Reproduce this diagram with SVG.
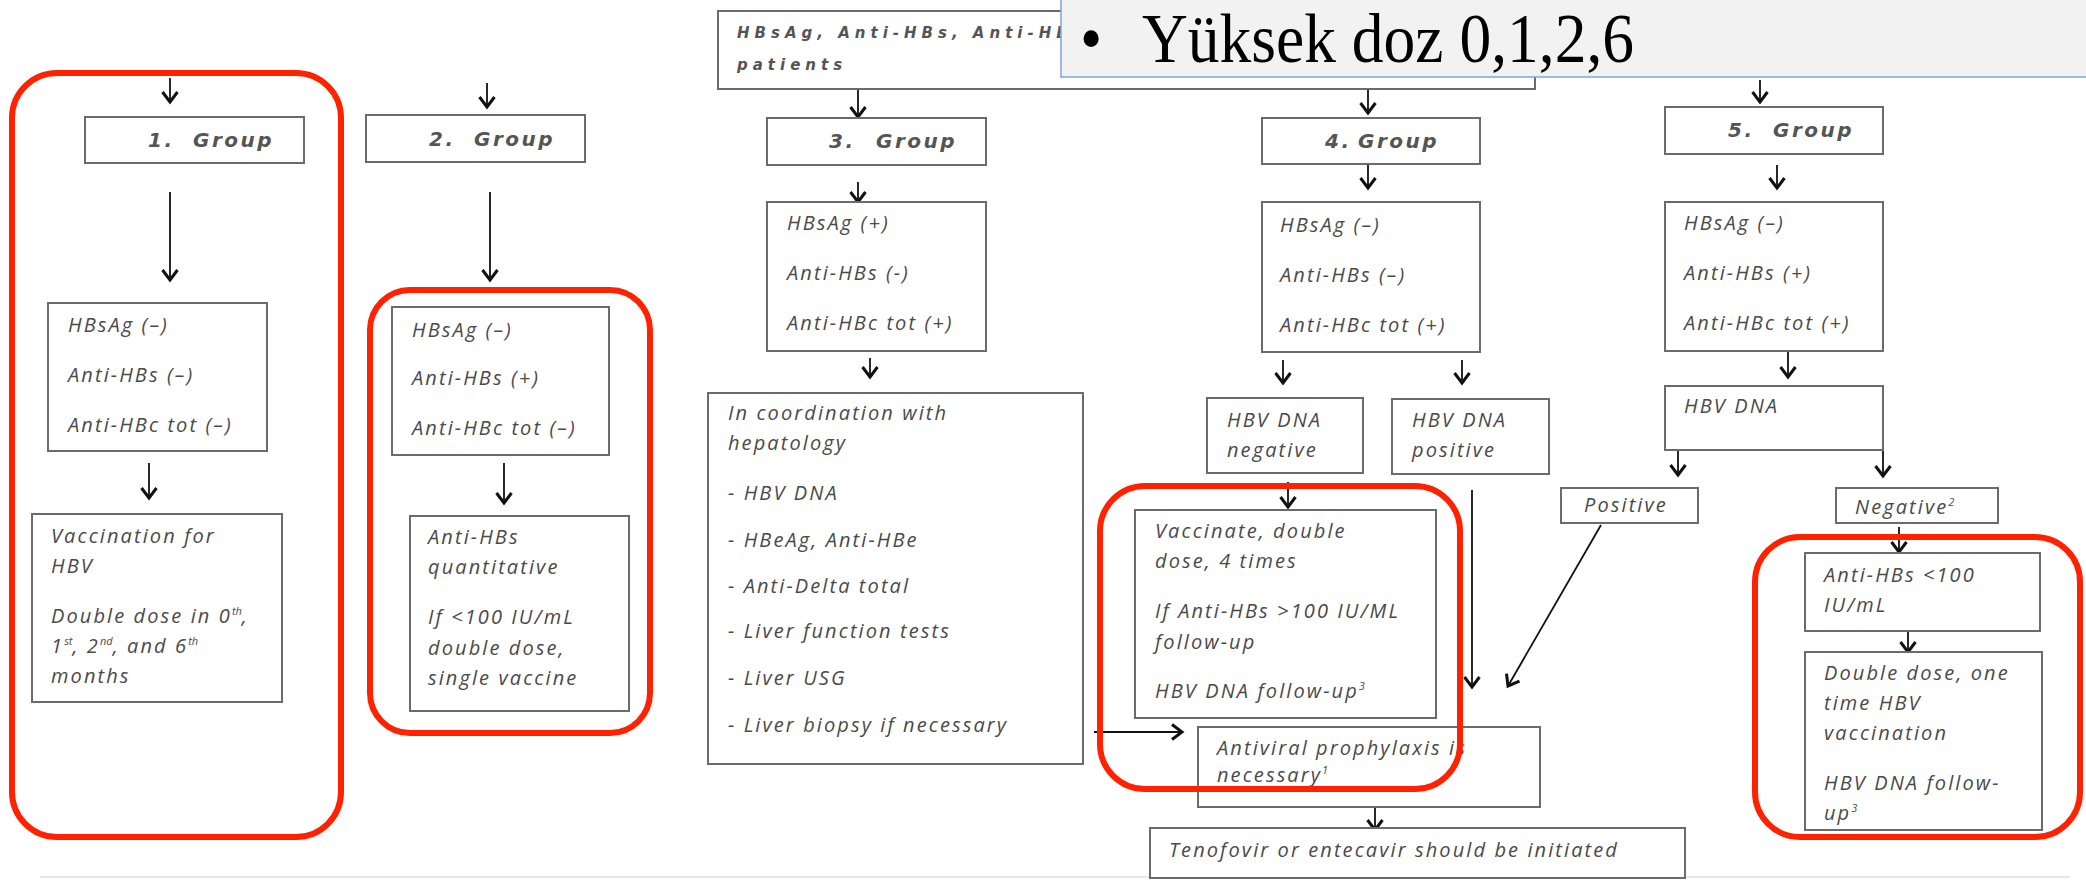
<svg xmlns="http://www.w3.org/2000/svg" width="2086" height="880" viewBox="0 0 2086 880">
<defs>
<style>
.box{fill:#fff;stroke:#6b6b6b;stroke-width:2}
.t{font-family:"Open Sans",sans-serif;font-style:italic;font-size:20px;fill:#4a4a4a;letter-spacing:2.1px}
.tb{font-family:"DejaVu Sans",sans-serif;font-style:oblique;font-weight:bold;font-size:20px;fill:#555;letter-spacing:2.5px}
.tt{font-size:15px;letter-spacing:5px}
.c{stroke:#111;stroke-width:1.8;fill:none;marker-end:url(#ah)}
.red{fill:none;stroke:#ff2200;stroke-width:6}
.sup{font-size:11px;letter-spacing:0}
</style>
<marker id="ah" markerUnits="userSpaceOnUse" markerWidth="16" markerHeight="20" viewBox="-13 -10 16 20" refX="0" refY="0" orient="auto">
<path d="M-10,-7.5 L0,0 L-10,7.5" fill="none" stroke="#111" stroke-width="3"/>
</marker>
</defs>
<rect width="2086" height="880" fill="#fff"/>
<line x1="40" y1="877" x2="2070" y2="877" stroke="#e6e6e6" stroke-width="2"/>

<g id="connectors">
<line class="c" x1="170" y1="78" x2="170" y2="102"/>
<line class="c" x1="170" y1="192" x2="170" y2="280"/>
<line class="c" x1="149" y1="463" x2="149" y2="498"/>
<line class="c" x1="487" y1="83" x2="487" y2="107"/>
<line class="c" x1="490" y1="192" x2="490" y2="280"/>
<line class="c" x1="504" y1="463" x2="504" y2="503"/>
<line class="c" x1="858" y1="90" x2="858" y2="117"/>
<line class="c" x1="858" y1="182" x2="858" y2="202"/>
<line class="c" x1="870" y1="358" x2="870" y2="377"/>
<line class="c" x1="1094" y1="732" x2="1182" y2="732"/>
<line class="c" x1="1368" y1="90" x2="1368" y2="113"/>
<line class="c" x1="1368" y1="165" x2="1368" y2="188"/>
<line class="c" x1="1283" y1="360" x2="1283" y2="383"/>
<line class="c" x1="1462" y1="360" x2="1462" y2="383"/>
<line class="c" x1="1288" y1="482" x2="1288" y2="507"/>
<line class="c" x1="1472" y1="490" x2="1472" y2="687"/>
<line class="c" x1="1601" y1="525" x2="1508" y2="686"/>
<line class="c" x1="1375" y1="808" x2="1375" y2="830"/>
<line class="c" x1="1760" y1="80" x2="1760" y2="102"/>
<line class="c" x1="1777" y1="165" x2="1777" y2="188"/>
<line class="c" x1="1788" y1="352" x2="1788" y2="377"/>
<line class="c" x1="1678" y1="450" x2="1678" y2="475"/>
<line class="c" x1="1883" y1="450" x2="1883" y2="476"/>
<line class="c" x1="1899" y1="527" x2="1899" y2="552"/>
<line class="c" x1="1908" y1="632" x2="1908" y2="652"/>
</g>

<g id="top-box">
<rect class="box" x="718" y="11" width="817" height="78"/>
<text class="tb tt" x="737" y="38">HBsAg, Anti-HBs, Anti-HB</text>
<text class="tb tt" x="737" y="70">patients</text>
</g>

<g id="g1-title"><rect class="box" x="85" y="117" width="219" height="46"/><text class="tb" x="148" y="147">1.<tspan x="193">Group</tspan></text></g>
<g id="g1-markers"><rect class="box" x="48" y="303" width="219" height="148"/>
<text class="t" x="68" y="332">HBsAg (–)</text><text class="t" x="68" y="382">Anti-HBs (–)</text><text class="t" x="68" y="432">Anti-HBc tot (–)</text></g>
<g id="g1-vacc"><rect class="box" x="32" y="514" width="250" height="188"/>
<text class="t" x="51" y="543">Vaccination for</text><text class="t" x="51" y="573">HBV</text>
<text class="t" x="51" y="623">Double dose in 0<tspan class="sup" dy="-8">th</tspan><tspan dy="8">,</tspan></text>
<text class="t" x="51" y="653">1<tspan class="sup" dy="-8">st</tspan><tspan dy="8">, 2</tspan><tspan class="sup" dy="-8">nd</tspan><tspan dy="8">, and 6</tspan><tspan class="sup" dy="-8">th</tspan></text>
<text class="t" x="51" y="683">months</text></g>

<g id="g2-title"><rect class="box" x="366" y="115" width="219" height="47"/><text class="tb" x="429" y="146">2.<tspan x="474">Group</tspan></text></g>
<g id="g2-markers"><rect class="box" x="392" y="307" width="217" height="148"/>
<text class="t" x="412" y="337">HBsAg (–)</text><text class="t" x="412" y="385">Anti-HBs (+)</text><text class="t" x="412" y="435">Anti-HBc tot (–)</text></g>
<g id="g2-quant"><rect class="box" x="410" y="516" width="219" height="195"/>
<text class="t" x="428" y="544">Anti-HBs</text><text class="t" x="428" y="574">quantitative</text>
<text class="t" x="428" y="624">If &lt;100 IU/mL</text><text class="t" x="428" y="655">double dose,</text><text class="t" x="428" y="685">single vaccine</text></g>

<g id="g3-title"><rect class="box" x="767" y="118" width="219" height="47"/><text class="tb" x="829" y="148">3.<tspan x="876">Group</tspan></text></g>
<g id="g3-markers"><rect class="box" x="767" y="202" width="219" height="149"/>
<text class="t" x="787" y="230">HBsAg (+)</text><text class="t" x="787" y="280">Anti-HBs (-)</text><text class="t" x="787" y="330">Anti-HBc tot (+)</text></g>
<g id="g3-coord"><rect class="box" x="708" y="393" width="375" height="371"/>
<text class="t" x="728" y="420">In coordination with</text><text class="t" x="728" y="450">hepatology</text>
<text class="t" x="728" y="500">- HBV DNA</text><text class="t" x="728" y="547">- HBeAg, Anti-HBe</text>
<text class="t" x="728" y="593">- Anti-Delta total</text><text class="t" x="728" y="638">- Liver function tests</text>
<text class="t" x="728" y="685">- Liver USG</text><text class="t" x="728" y="732">- Liver biopsy if necessary</text></g>

<g id="g4-title"><rect class="box" x="1262" y="118" width="218" height="46"/><text class="tb" x="1325" y="148">4.<tspan x="1358">Group</tspan></text></g>
<g id="g4-markers"><rect class="box" x="1262" y="202" width="218" height="150"/>
<text class="t" x="1280" y="232">HBsAg (–)</text><text class="t" x="1280" y="282">Anti-HBs (–)</text><text class="t" x="1280" y="332">Anti-HBc tot (+)</text></g>
<g id="g4-neg"><rect class="box" x="1207" y="398" width="156" height="75"/>
<text class="t" x="1227" y="427">HBV DNA</text><text class="t" x="1227" y="457">negative</text></g>
<g id="g4-pos"><rect class="box" x="1392" y="399" width="157" height="75"/>
<text class="t" x="1412" y="427">HBV DNA</text><text class="t" x="1412" y="457">positive</text></g>
<g id="g4-vacc"><rect class="box" x="1135" y="510" width="301" height="208"/>
<text class="t" x="1155" y="538">Vaccinate, double</text><text class="t" x="1155" y="568">dose, 4 times</text>
<text class="t" x="1155" y="618">If Anti-HBs &gt;100 IU/ML</text><text class="t" x="1155" y="649">follow-up</text>
<text class="t" x="1155" y="698">HBV DNA follow-up<tspan class="sup" dy="-8">3</tspan></text></g>
<g id="antiviral"><rect class="box" x="1198" y="727" width="342" height="80"/>
<text class="t" x="1217" y="755">Antiviral prophylaxis is</text><text class="t" x="1217" y="782">necessary<tspan class="sup" dy="-8">1</tspan></text></g>
<g id="tenofovir"><rect class="box" x="1150" y="828" width="535" height="50"/>
<text class="t" x="1169" y="857">Tenofovir or entecavir should be initiated</text></g>

<g id="g5-title"><rect class="box" x="1665" y="107" width="218" height="47"/><text class="tb" x="1728" y="137">5.<tspan x="1773">Group</tspan></text></g>
<g id="g5-markers"><rect class="box" x="1665" y="202" width="218" height="149"/>
<text class="t" x="1684" y="230">HBsAg (–)</text><text class="t" x="1684" y="280">Anti-HBs (+)</text><text class="t" x="1684" y="330">Anti-HBc tot (+)</text></g>
<g id="g5-dna"><rect class="box" x="1665" y="386" width="218" height="64"/><text class="t" x="1684" y="413">HBV DNA</text></g>
<g id="g5-pos"><rect class="box" x="1561" y="488" width="137" height="35"/><text class="t" x="1584" y="512">Positive</text></g>
<g id="g5-neg"><rect class="box" x="1836" y="488" width="162" height="35"/><text class="t" x="1855" y="514">Negative<tspan class="sup" dy="-8">2</tspan></text></g>
<g id="g5-anti"><rect class="box" x="1805" y="553" width="235" height="78"/>
<text class="t" x="1824" y="582">Anti-HBs &lt;100</text><text class="t" x="1824" y="612">IU/mL</text></g>
<g id="g5-dose"><rect class="box" x="1805" y="652" width="237" height="178"/>
<text class="t" x="1824" y="680">Double dose, one</text><text class="t" x="1824" y="710">time HBV</text>
<text class="t" x="1824" y="740">vaccination</text><text class="t" x="1824" y="790">HBV DNA follow-</text>
<text class="t" x="1824" y="820">up<tspan class="sup" dy="-8">3</tspan></text></g>

<g id="overlay">
<rect x="1061" y="-3" width="1030" height="80" fill="#f2f2f2" stroke="#7fa7d8" stroke-width="1.5"/>
<g transform="translate(0,62) scale(1,1.1)">
<text x="1080" y="0" font-family="'Liberation Serif',serif" font-size="63.5" fill="#000">•</text>
<text x="1142" y="0" font-family="'Liberation Serif',serif" font-size="63.5" fill="#000">Yüksek doz 0,1,2,6</text>
</g>
</g>

<g id="highlights">
<rect class="red" x="12" y="73" width="329" height="764" rx="45"/>
<rect class="red" x="370" y="290" width="280" height="443" rx="40"/>
<rect class="red" x="1100" y="486" width="360" height="303" rx="45"/>
<rect class="red" x="1755" y="537" width="325" height="300" rx="45"/>
</g>
</svg>
